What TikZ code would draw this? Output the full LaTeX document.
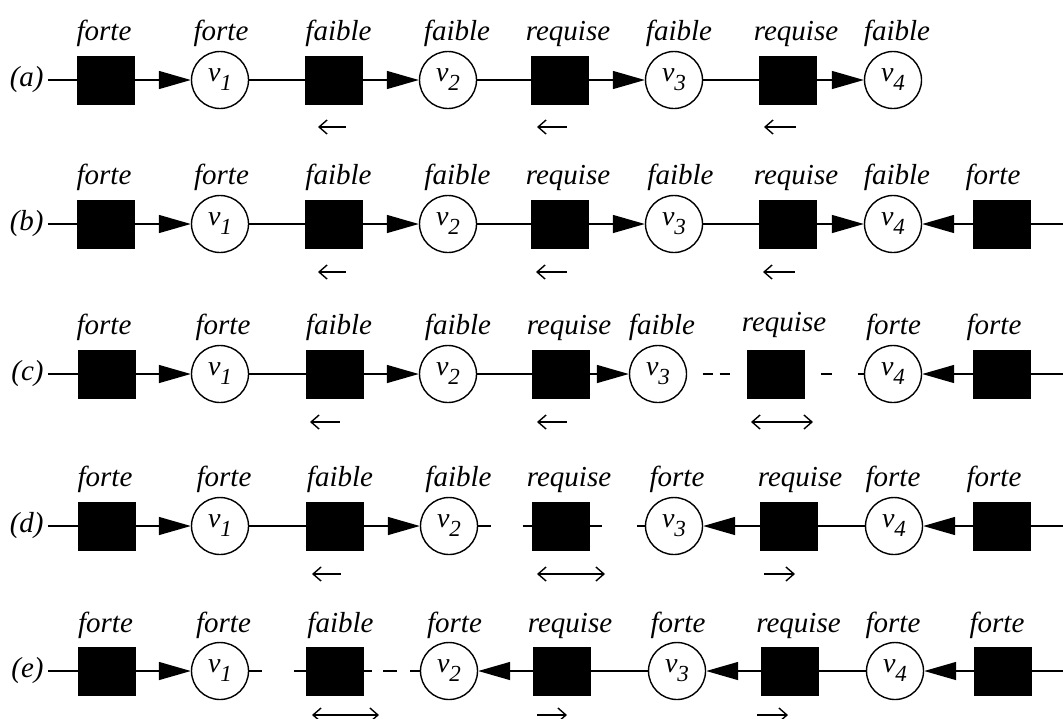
\documentclass[tikz,border=0pt]{standalone}
\usepackage{fontspec}
\setmainfont{Liberation Serif}
\usetikzlibrary{arrows.meta}
\newcommand\vlab[1]{v\raisebox{-4.5pt}{\fontsize{11.5}{11.5}\selectfont #1}}
\tikzset{
  sq/.style={fill=black,draw=black,line width=0.4pt,minimum width=28.5pt,minimum height=24pt,inner sep=0pt},
  vx/.style={circle,draw=black,line width=0.7pt,minimum size=28.5pt,inner sep=0pt,font=\fontsize{14}{14}\selectfont\itshape},
  lab/.style={anchor=base,inner sep=0pt,font=\fontsize{14.5}{15}\selectfont\itshape},
  rowlab/.style={anchor=east,inner sep=2pt,font=\fontsize{14.5}{15}\selectfont\itshape},
  conn/.style={line width=0.7pt},
  tri/.style={conn,-{Triangle[length=16pt,width=9pt]}},
  sarr/.style={line width=0.7pt},
  sl/.style={sarr,{Straight Barb[length=4pt,width=7pt]}-},
  sr/.style={sarr,-{Straight Barb[length=4pt,width=7pt]}},
  slr/.style={sarr,{Straight Barb[length=4pt,width=7pt]}-{Straight Barb[length=4pt,width=7pt]}},
  dcA/.style={conn,dash pattern=on 5pt off 3.5pt on 5.25pt off 23pt,dash phase=29pt},
  dcB/.style={conn,dash pattern=on 5.5pt off 13pt on 10pt off 8.25pt,dash phase=28.5pt},
  ddA/.style={conn,dash pattern=on 6.25pt off 16pt on 10pt off 10pt},
  ddB/.style={conn,dash pattern=on 6pt off 17.5pt on 10pt off 10pt},
  deA/.style={conn,dash pattern=on 6.25pt off 16pt on 10pt off 10pt},
  deB/.style={conn,dash pattern=on 4.25pt off 5.5pt on 7pt off 6.5pt on 10pt off 10pt},
}
\begin{document}
\begin{tikzpicture}[x=0.5pt,y=-0.5pt]
\useasboundingbox (0,0) rectangle (1063,718);
% ---------------- row (a)
\node[rowlab] (la) at (48,80) {(a)};
\node[sq] (a1) at (106,80) {};
\node[vx] (av1) at (220,80) {\vlab{1}};
\node[sq] (a2) at (334,80) {};
\node[vx] (av2) at (448,80) {\vlab{2}};
\node[sq] (a3) at (560,80) {};
\node[vx] (av3) at (674,80) {\vlab{3}};
\node[sq] (a4) at (788,80) {};
\node[vx] (av4) at (893,80) {\vlab{4}};
\node[lab] (ta1) at (104,40) {forte};
\node[lab] (ta2) at (221,40) {forte};
\node[lab] (ta3) at (338.5,40) {faible};
\node[lab] (ta4) at (457,40) {faible};
\node[lab] (ta5) at (568,40) {requise};
\node[lab] (ta6) at (679,40) {faible};
\node[lab] (ta7) at (796,40) {requise};
\node[lab] (ta8) at (897,40) {faible};
\draw[conn] (la) -- (a1);
\draw[tri] (a1) -- (av1);
\draw[conn] (av1) -- (a2);
\draw[tri] (a2) -- (av2);
\draw[conn] (av2) -- (a3);
\draw[tri] (a3) -- (av3);
\draw[conn] (av3) -- (a4);
\draw[tri] (a4) -- (av4);
\draw[sl] (318,127) -- (346,127);
\draw[sl] (537,127) -- (567,127);
\draw[sl] (764,127) -- (796,127);
% ---------------- row (b)
\node[rowlab] (lb) at (48,224) {(b)};
\node[sq] (b1) at (106,224) {};
\node[vx] (bv1) at (220,224) {\vlab{1}};
\node[sq] (b2) at (334,224) {};
\node[vx] (bv2) at (448,224) {\vlab{2}};
\node[sq] (b3) at (560,224) {};
\node[vx] (bv3) at (674,224) {\vlab{3}};
\node[sq] (b4) at (788,224) {};
\node[vx] (bv4) at (893,224) {\vlab{4}};
\node[sq] (b5) at (1002,224) {};
\coordinate (bR) at (1063,224);
\node[lab] (tb1) at (104,184) {forte};
\node[lab] (tb2) at (221.5,184) {forte};
\node[lab] (tb3) at (338.5,184) {faible};
\node[lab] (tb4) at (457.5,184) {faible};
\node[lab] (tb5) at (568,184) {requise};
\node[lab] (tb6) at (680.5,184) {faible};
\node[lab] (tb7) at (796,184) {requise};
\node[lab] (tb8) at (897,184) {faible};
\node[lab] (tb9) at (993,184) {forte};
\draw[conn] (lb) -- (b1);
\draw[tri] (b1) -- (bv1);
\draw[conn] (bv1) -- (b2);
\draw[tri] (b2) -- (bv2);
\draw[conn] (bv2) -- (b3);
\draw[tri] (b3) -- (bv3);
\draw[conn] (bv3) -- (b4);
\draw[tri] (b4) -- (bv4);
\draw[tri] (b5) -- (bv4);
\draw[conn] (b5) -- (bR);
\draw[sl] (318,272) -- (346,272);
\draw[sl] (536,272) -- (567,272);
\draw[sl] (763,272) -- (795,272);
% ---------------- row (c)
\node[rowlab] (lc) at (48,374) {(c)};
\node[sq] (c1) at (107,374) {};
\node[vx] (cv1) at (220,374) {\vlab{1}};
\node[sq] (c2) at (335,374) {};
\node[vx] (cv2) at (448,374) {\vlab{2}};
\node[sq] (c3) at (561,374) {};
\node[vx] (cv3) at (658,374) {\vlab{3}};
\node[sq] (c4) at (775.5,374) {};
\node[vx] (cv4) at (893,374) {\vlab{4}};
\node[sq] (c5) at (1002,374) {};
\coordinate (cR) at (1063,374);
\node[lab] (tc1) at (104,334) {forte};
\node[lab] (tc2) at (223,334) {forte};
\node[lab] (tc3) at (339,334) {faible};
\node[lab] (tc4) at (458,334) {faible};
\node[lab] (tc5) at (569,334) {requise};
\node[lab] (tc6) at (662,334) {faible};
\node[lab] (tc7) at (784,331) {requise};
\node[lab] (tc8) at (893.5,334) {forte};
\node[lab] (tc9) at (994,334) {forte};
\draw[conn] (lc) -- (c1);
\draw[tri] (c1) -- (cv1);
\draw[conn] (cv1) -- (c2);
\draw[tri] (c2) -- (cv2);
\draw[conn] (cv2) -- (c3);
\draw[tri] (c3) -- (cv3);
\draw[dcA] (cv3) -- (c4);
\draw[dcB] (c4) -- (cv4);
\draw[tri] (c5) -- (cv4);
\draw[conn] (c5) -- (cR);
\draw[sl] (310,422) -- (340,422);
\draw[sl] (537,422) -- (567,422);
\draw[slr] (751,422) -- (813,422);
% ---------------- row (d)
\node[rowlab] (ld) at (48,526) {(d)};
\node[sq] (d1) at (107,526) {};
\node[vx] (dv1) at (220,526) {\vlab{1}};
\node[sq] (d2) at (335,526) {};
\node[vx] (dv2) at (449,526) {\vlab{2}};
\node[sq] (d3) at (561,526) {};
\node[vx] (dv3) at (674,526) {\vlab{3}};
\node[sq] (d4) at (789,526) {};
\node[vx] (dv4) at (894,526) {\vlab{4}};
\node[sq] (d5) at (1002,526) {};
\coordinate (dR) at (1063,526);
\node[lab] (td1) at (105,486) {forte};
\node[lab] (td2) at (224,486) {forte};
\node[lab] (td3) at (340,486) {faible};
\node[lab] (td4) at (458.5,486) {faible};
\node[lab] (td5) at (569,486) {requise};
\node[lab] (td6) at (677,486) {forte};
\node[lab] (td7) at (800,486) {requise};
\node[lab] (td8) at (893,486) {forte};
\node[lab] (td9) at (994,486) {forte};
\draw[conn] (ld) -- (d1);
\draw[tri] (d1) -- (dv1);
\draw[conn] (dv1) -- (d2);
\draw[tri] (d2) -- (dv2);
\draw[ddA] (dv2) -- (d3);
\draw[ddB] (d3) -- (dv3);
\draw[tri] (d4) -- (dv3);
\draw[conn] (d4) -- (dv4);
\draw[tri] (d5) -- (dv4);
\draw[conn] (d5) -- (dR);
\draw[sl] (312,574) -- (341,574);
\draw[slr] (537,574) -- (605,574);
\draw[sr] (764,574) -- (795,574);
% ---------------- row (e)
\node[rowlab] (le) at (48,671) {(e)};
\node[sq] (e1) at (107,671) {};
\node[vx] (ev1) at (220,671) {\vlab{1}};
\node[sq] (e2) at (335,671) {};
\node[vx] (ev2) at (449,671) {\vlab{2}};
\node[sq] (e3) at (562,671) {};
\node[vx] (ev3) at (677,671) {\vlab{3}};
\node[sq] (e4) at (790,671) {};
\node[vx] (ev4) at (895,671) {\vlab{4}};
\node[sq] (e5) at (1003,671) {};
\coordinate (eR) at (1063,671);
\node[lab] (te1) at (105.5,632) {forte};
\node[lab] (te2) at (223.5,632) {forte};
\node[lab] (te3) at (340.5,632) {faible};
\node[lab] (te4) at (454.5,632) {forte};
\node[lab] (te5) at (570,632) {requise};
\node[lab] (te6) at (678,632) {forte};
\node[lab] (te7) at (798.5,632) {requise};
\node[lab] (te8) at (893,632) {forte};
\node[lab] (te9) at (997,632) {forte};
\draw[conn] (le) -- (e1);
\draw[tri] (e1) -- (ev1);
\draw[deA] (ev1) -- (e2);
\draw[deB] (e2) -- (ev2);
\draw[tri] (e3) -- (ev2);
\draw[conn] (e3) -- (ev3);
\draw[tri] (e4) -- (ev3);
\draw[conn] (e4) -- (ev4);
\draw[tri] (e5) -- (ev4);
\draw[conn] (e5) -- (eR);
\draw[slr] (312,715) -- (379,715);
\draw[sr] (537,715) -- (567,715);
\draw[sr] (757,715) -- (788,715);
\end{tikzpicture}
\end{document}
